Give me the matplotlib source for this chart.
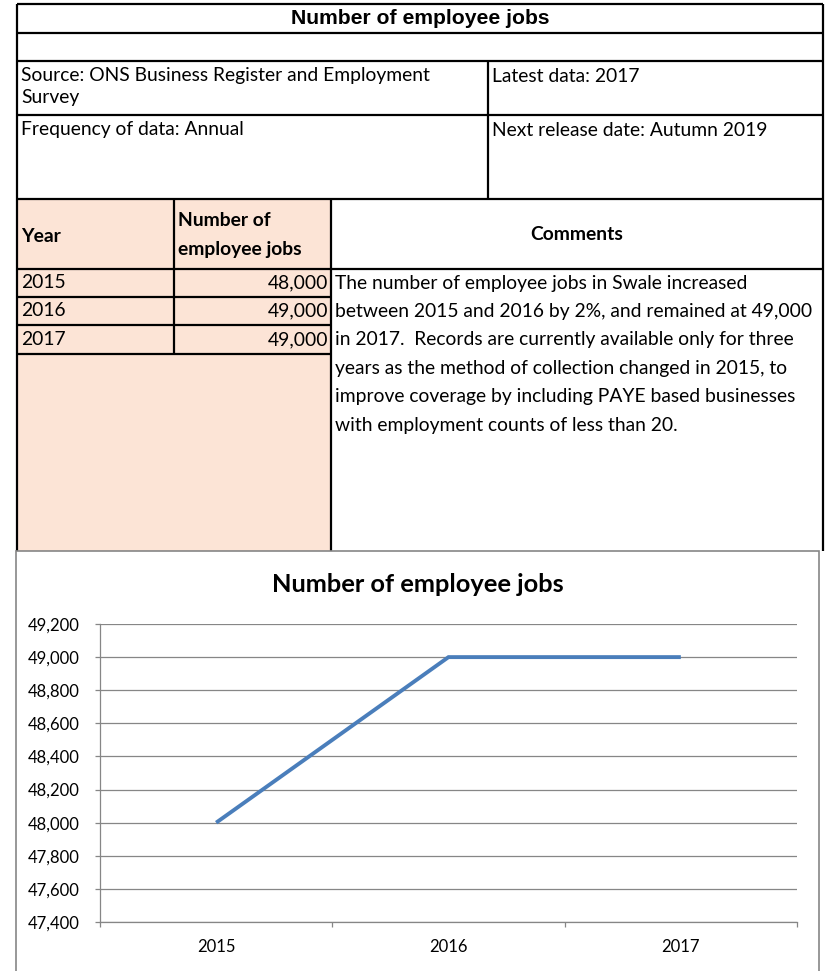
import matplotlib
matplotlib.use("Agg")
import matplotlib.pyplot as plt
from matplotlib.patches import Rectangle
from matplotlib.ticker import FuncFormatter, FixedLocator

years = ["2015", "2016", "2017"]
jobs = [48000, 49000, 49000]
table_title = "Number of employee jobs"
source_text = "Source: ONS Business Register and Employment\nSurvey"
latest_text = "Latest data: 2017"
freq_text = "Frequency of data: Annual"
release_text = "Next release date: Autumn 2019"
comment_lines = [
    "The number of employee jobs in Swale increased",
    "between 2015 and 2016 by 2%, and remained at 49,000",
    "in 2017.  Records are currently available only for three",
    "years as the method of collection changed in 2015, to",
    "improve coverage by including PAYE based businesses",
    "with employment counts of less than 20.",
]
y_ticks = [47400, 47600, 47800, 48000, 48200, 48400, 48600, 48800, 49000, 49200]

W, H = 827, 971
fig = plt.figure(figsize=(W / 100, H / 100), dpi=100)
bg = fig.add_axes([0, 0, 1, 1])
bg.set_xlim(0, W)
bg.set_ylim(H, 0)
bg.axis("off")

FONT = "Lato"
FS = 13.9
peach = "#FCE4D6"
lw_thick = 1.6

def hline(y, x0, x1, lw=lw_thick, c="black"):
    bg.plot([x0, x1], [y, y], color=c, lw=lw, solid_capstyle="butt", zorder=3)

def vline(x, y0, y1, lw=lw_thick, c="black"):
    bg.plot([x, x], [y0, y1], color=c, lw=lw, solid_capstyle="butt", zorder=3)

L, R = 17, 823
# top table
hline(4, L, R)
hline(33, L, R)
hline(61, L, R)
hline(115, L, R)
hline(199, L, R)
vline(L, 4, 551)
vline(R, 4, 551)
vline(488, 61, 199)

bg.text((L + R) / 2, 19, table_title, family="Liberation Sans", weight="bold",
        fontsize=15.2, ha="center", va="center")
bg.text(21, 76, source_text.split("\n")[0], family=FONT, fontsize=FS,
        ha="left", va="center")
bg.text(21, 98, source_text.split("\n")[1], family=FONT, fontsize=FS,
        ha="left", va="center")
bg.text(492, 76, latest_text, family=FONT, fontsize=FS, ha="left", va="center")
bg.text(21, 130, freq_text, family=FONT, fontsize=FS, ha="left", va="center")
bg.text(492, 130, release_text, family=FONT, fontsize=FS, ha="left",
        va="center")

# lower table
bg.add_patch(Rectangle((L, 199), 331 - L, 551 - 199, facecolor=peach,
                       edgecolor="none", zorder=1))
hline(269, L, R)
vline(174, 199, 354)
vline(331, 199, 551)
row_edges = [269, 297, 325, 354]
for y in row_edges[1:]:
    hline(y, L, 331)

bg.text(21, 236, "Year", family=FONT, weight="bold", fontsize=FS,
        ha="left", va="center")
bg.text(178, 221, "Number of", family=FONT, weight="bold",
        fontsize=FS, ha="left", va="center")
bg.text(178, 249, "employee jobs", family=FONT, weight="bold",
        fontsize=FS, ha="left", va="center")
bg.text((331 + R) / 2, 234, "Comments", family=FONT, weight="bold",
        fontsize=FS, ha="center", va="center")

for i, (yr, v) in enumerate(zip(years, jobs)):
    yc = (row_edges[i] + row_edges[i + 1]) / 2
    bg.text(21, yc, yr, family=FONT, fontsize=FS, ha="left", va="center")
    bg.text(328, yc, f"{v:,}", family=FONT, fontsize=FS, ha="right",
            va="center")

for i, line in enumerate(comment_lines):
    bg.text(335, 283 + i * 28.4, line, family=FONT, fontsize=FS,
            ha="left", va="center")

# chart box
bg.add_patch(Rectangle((16, 551), 819 - 16, 440, facecolor="white",
                       edgecolor="#868686", lw=1.2, zorder=4))
bg.text(418, 585, "Number of employee jobs", family=FONT, weight="bold",
        fontsize=18.3, ha="center", va="center", zorder=5)

# chart axes
px0, px1, py0, py1 = 100, 797, 624, 922
ax = fig.add_axes([px0 / W, 1 - py1 / H, (px1 - px0) / W, (py1 - py0) / H])
ax.set_zorder(6)
ax.patch.set_alpha(0)
x = [0.5, 1.5, 2.5]
ax.plot(x, jobs, color="#4A7EBB", lw=2.8, solid_capstyle="butt",
        solid_joinstyle="miter")
ax.set_xlim(0, 3)
ax.set_ylim(47400, 49200)
ax.set_yticks(y_ticks)
ax.yaxis.set_major_formatter(FuncFormatter(lambda v, p: f"{int(v):,}"))
ax.grid(axis="y", color="#868686", lw=0.9)
ax.set_axisbelow(True)
for s in ["top", "right"]:
    ax.spines[s].set_visible(False)
for s in ["left", "bottom"]:
    ax.spines[s].set_color("#868686")
    ax.spines[s].set_linewidth(0.9)
ax.xaxis.set_major_locator(FixedLocator([0, 1, 2, 3]))
ax.xaxis.set_minor_locator(FixedLocator(x))
ax.set_xticklabels([])
ax.xaxis.set_minor_formatter(FuncFormatter(lambda v, p: years[int(v)]))
ax.tick_params(axis="x", which="major", length=3.6, color="#868686", width=0.9)
ax.tick_params(axis="x", which="minor", length=0, pad=12, labelsize=12)
ax.tick_params(axis="y", length=3.6, color="#868686", width=0.9, labelsize=12,
               pad=11)
for t in ax.get_xticklabels(minor=True) + ax.get_yticklabels():
    t.set_family(FONT)

fig.savefig("out.png", dpi=100)
